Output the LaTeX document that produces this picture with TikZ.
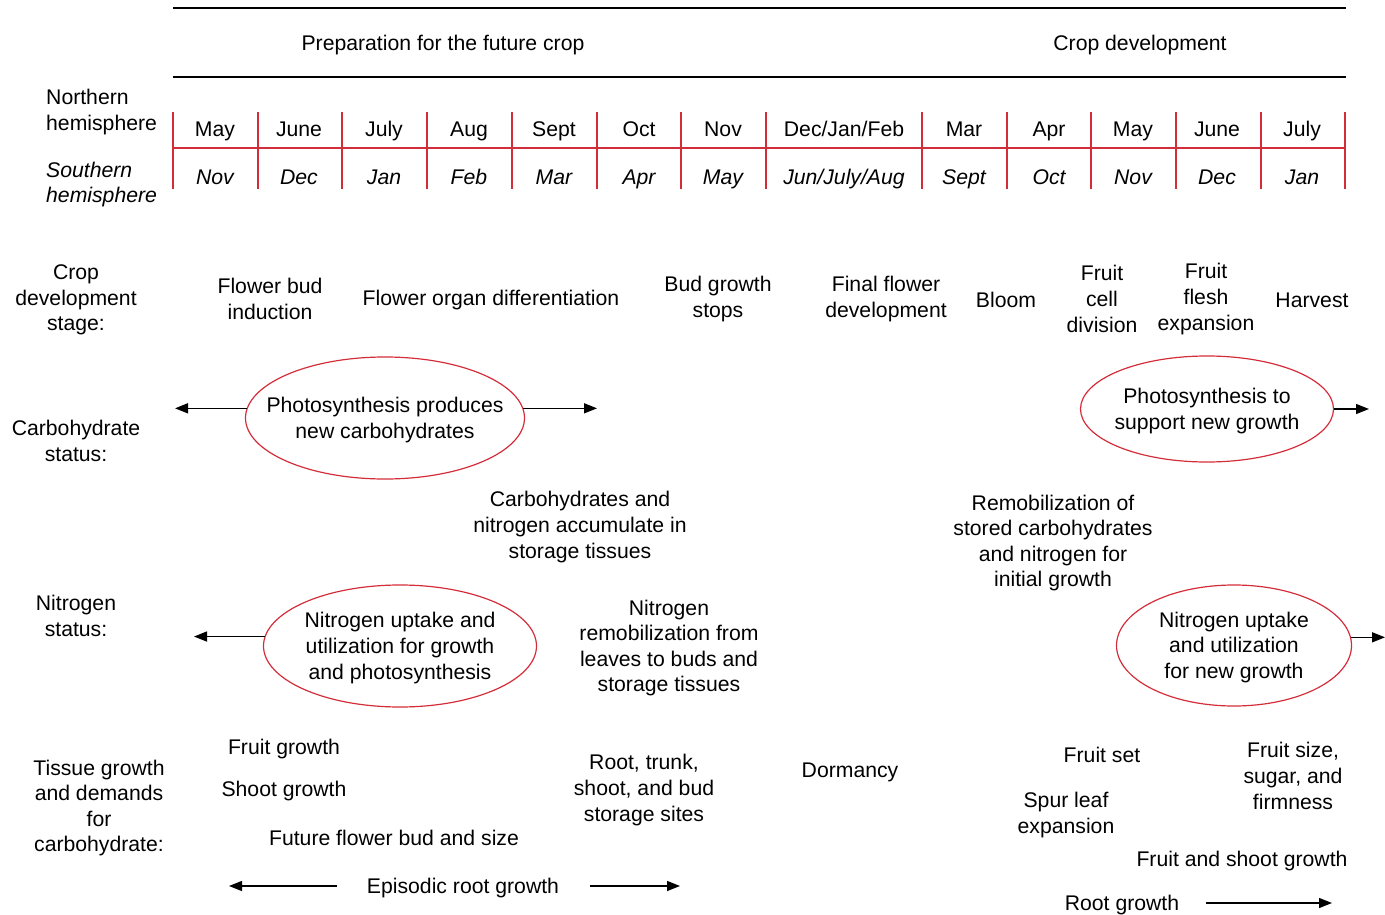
\documentclass[tikz,border=0pt]{standalone}
\usepackage{fontspec}
\setmainfont{Liberation Sans}
\usetikzlibrary{arrows.meta,shapes.geometric}
\definecolor{lred}{RGB}{212,45,58}
\begin{document}
\begin{tikzpicture}[x=1pt,y=-1pt,
  txt/.style={font=\fontsize{21.2}{25.6}\selectfont, align=center, inner sep=0pt, yshift=-2pt},
  itx/.style={txt, font=\fontsize{21.2}{25.6}\selectfont\itshape},
  mo/.style={font=\fontsize{21.2}{25.6}\selectfont, inner sep=0pt, anchor=base},
  mi/.style={mo, font=\fontsize{21.2}{25.6}\selectfont\itshape},
  rule/.style={line width=1.4pt, black},
  grid/.style={line width=1.3pt, lred},
  ell/.style={ellipse, draw=lred, line width=1.2pt, inner sep=0pt},
  arr/.style={line width=1.4pt, -{Triangle[length=13pt,width=10pt]}}]
\useasboundingbox (0,0) rectangle (1385,915);

% header
\draw[rule] (173,8) -- (1346,8);
\draw[rule] (173,77) -- (1346,77);
\node[txt] (hdrA) at (443,43) {Preparation for the future crop};
\node[txt] (hdrB) at (1140,43) {Crop development};

% month grid
\foreach \x in {173,258,342,427,512,597,681,766,922,1007,1091,1176,1261,1345}
  \draw[grid] (\x,112) -- (\x,189);
\draw[grid] (173,148) -- (1345,148);

\node[txt, anchor=west, align=left] (north) at (46,110) {Northern\\hemisphere};
\node[itx, anchor=west, align=left] (south) at (46,182.5) {Southern\\hemisphere};

\node[mo] (n1) at (215,136.5) {May};
\node[mo] (n2) at (299,136.5) {June};
\node[mo] (n3) at (384,136.5) {July};
\node[mo] (n4) at (469,136.5) {Aug};
\node[mo] (n5) at (554,136.5) {Sept};
\node[mo] (n6) at (639,136.5) {Oct};
\node[mo] (n7) at (723,136.5) {Nov};
\node[mo] (n8) at (844,136.5) {Dec/Jan/Feb};
\node[mo] (n9) at (964,136.5) {Mar};
\node[mo] (n10) at (1049,136.5) {Apr};
\node[mo] (n11) at (1133,136.5) {May};
\node[mo] (n12) at (1217,136.5) {June};
\node[mo] (n13) at (1302,136.5) {July};

\node[mi] (s1) at (215,184.5) {Nov};
\node[mi] (s2) at (299,184.5) {Dec};
\node[mi] (s3) at (384,184.5) {Jan};
\node[mi] (s4) at (469,184.5) {Feb};
\node[mi] (s5) at (554,184.5) {Mar};
\node[mi] (s6) at (639,184.5) {Apr};
\node[mi] (s7) at (723,184.5) {May};
\node[mi] (s8) at (844,184.5) {Jun/July/Aug};
\node[mi] (s9) at (964,184.5) {Sept};
\node[mi] (s10) at (1049,184.5) {Oct};
\node[mi] (s11) at (1133,184.5) {Nov};
\node[mi] (s12) at (1217,184.5) {Dec};
\node[mi] (s13) at (1302,184.5) {Jan};

% row labels
\node[txt] (lab1) at (76,298) {Crop\\development\\stage:};
\node[txt] (lab2) at (76,439) {Carbohydrate\\status:};
\node[txt] (lab3) at (76,614) {Nitrogen\\status:};
\node[txt] (lab4) at (99,806) {Tissue growth\\and demands\\for\\carbohydrate:};

% crop development stages
\node[txt] (st1) at (270,297) {Flower bud\\induction};
\node[txt] (st2) at (491,298) {Flower organ differentiation};
\node[txt] (st3) at (718,297) {Bud growth\\stops};
\node[txt] (st4) at (886,297) {Final flower\\development};
\node[txt] (st5) at (1006,298) {Bloom};
\node[txt] (st6) at (1102,297) {Fruit\\cell\\division};
\node[txt] (st7) at (1206,297) {Fruit\\flesh\\expansion};
\node[txt] (st8) at (1312,298) {Harvest};

% carbohydrate status
\node[ell, minimum width=279pt, minimum height=122pt] (e1) at (385,418) {};
\node[txt] (t1) at (e1.center) {Photosynthesis produces\\new carbohydrates};
\coordinate (e1l) at (175,410);
\coordinate (e1r) at (597,410);
\draw[arr] (e1.176) -- (e1l |- e1.176);
\draw[arr] (e1.4) -- (e1r |- e1.4);

\node[ell, minimum width=253pt, minimum height=106pt] (e2) at (1207,409) {};
\node[txt] (t2) at (e2.center) {Photosynthesis to\\support new growth};
\coordinate (e2r) at (1369,409);
\draw[arr] (e2.east) -- (e2r);

\node[txt] (ca) at (580,525) {Carbohydrates and\\nitrogen accumulate in\\storage tissues};
\node[txt] (rm) at (1053,541) {Remobilization of\\stored carbohydrates\\and nitrogen for\\initial growth};

% nitrogen status
\node[ell, minimum width=273pt, minimum height=122pt] (e3) at (400,646) {};
\node[txt] (t3) at (e3.center) {Nitrogen uptake and\\utilization for growth\\and photosynthesis};
\coordinate (e3l) at (194,638);
\draw[arr] (e3.176) -- (e3l |- e3.176);

\node[txt] (nr) at (669,646) {Nitrogen\\remobilization from\\leaves to buds and\\storage tissues};

\node[ell, minimum width=235pt, minimum height=121pt] (e4) at (1234,645.5) {};
\node[txt] (t4) at (e4.center) {Nitrogen uptake\\and utilization\\for new growth};
\coordinate (e4r) at (1385,638);
\draw[arr] (e4.4) -- (e4r |- e4.4);

% tissue growth
\node[txt] (g1) at (284,747) {Fruit growth};
\node[txt] (g2) at (284,789) {Shoot growth};
\node[txt] (g3) at (394,836) {Future flower bud and size};
\node[txt] (g4) at (463,886) {Episodic root growth};
\coordinate (g4a) at (337,886);
\coordinate (g4b) at (229,886);
\coordinate (g4c) at (590,886);
\coordinate (g4d) at (680,886);
\draw[arr] (g4a) -- (g4b);
\draw[arr] (g4c) -- (g4d);
\node[txt] (g5) at (644,788) {Root, trunk,\\shoot, and bud\\storage sites};
\node[txt] (g6) at (850,770) {Dormancy};
\node[txt] (g7) at (1102,753) {Fruit set};
\node[txt] (g8) at (1066,813) {Spur leaf\\expansion};
\node[txt] (g9) at (1293,774) {Fruit size,\\sugar, and\\firmness};
\node[txt] (g10) at (1242,859) {Fruit and shoot growth};
\node[txt] (g11) at (1122,903) {Root growth};
\coordinate (g11a) at (1206,903);
\coordinate (g11b) at (1332,903);
\draw[arr] (g11a) -- (g11b);
\end{tikzpicture}
\end{document}
